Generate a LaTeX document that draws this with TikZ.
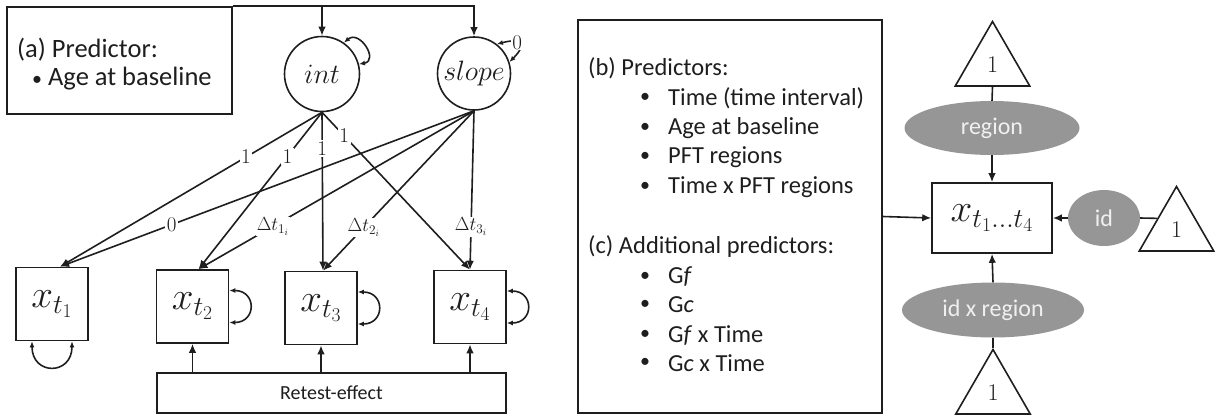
\RequirePackage{fix-cm}
\documentclass[tikz,border=0pt]{standalone}
\usepackage{fontspec}
\setmainfont{Carlito}
\usetikzlibrary{arrows.meta,shapes.geometric,calc}
\definecolor{ink}{RGB}{30,30,30}
\definecolor{grey}{RGB}{150,150,150}
\begin{document}
\begin{tikzpicture}[x=1pt,y=-1pt,
  every node/.style={text=ink},
  ln/.style={draw=ink, line width=1.6pt},
  arr/.style={ln, -{Latex[length=9pt,width=7.5pt]}},
  darr/.style={ln, {Latex[length=6pt,width=5pt]}-{Latex[length=6pt,width=5pt]}},
  obs/.style={ln, minimum width=72pt, minimum height=73pt, inner sep=0pt, font=\fontsize{39}{44}\selectfont},
  lat/.style={ln, circle, inner sep=0pt, font=\fontsize{28}{32}\selectfont},
  lab/.style={fill=white, inner sep=1.5pt, font=\fontsize{21}{24}\selectfont},
  dlab/.style={fill=white, inner sep=1pt, font=\fontsize{19}{22}\selectfont},
  txt/.style={inner sep=0pt, anchor=west, font=\fontsize{24.5}{29.5}\selectfont},
  gre/.style={ellipse, fill=grey, text=white!94!black, inner sep=0pt, font=\fontsize{24}{28}\selectfont},
  tri/.style={regular polygon, regular polygon sides=3, minimum size=86pt, inner sep=0pt, ln, font=\fontsize{24}{28}\selectfont}
]
\useasboundingbox (0,0) rectangle (1215,416);

% ---- panel (a) ----
\node[ln, minimum width=225pt, minimum height=107pt] (predA) at (119.5,60.5) {};
\node[txt, font=\fontsize{26.5}{30}\selectfont] (predAt) at (17,50) {(a) Predictor:};
\node[txt, font=\fontsize{26.5}{30}\selectfont] (predAb) at (32,79) {{\fontsize{20}{20}\selectfont\textbullet}\ Age at baseline};

\node[lat, minimum size=75pt] (int) at (322,74) {$int$};
\node[lat, minimum size=73pt] (slope) at (474,73.5) {$slope$};

\draw[arr] (predA.north east) -| (slope.north);
\draw[arr] (int.north |- predA.north) -- (int.north);

\node[obs] (x1) at (52,304) {$x_{t_1}$};
\node[obs] (x2) at (192.5,306.5) {$x_{t_2}$};
\node[obs] (x3) at (321,308) {$x_{t_3}$};
\node[obs] (x4) at (470,307) {$x_{t_4}$};
\node[ln, minimum width=349pt, minimum height=40pt, inner sep=0pt, font=\fontsize{20}{24}\selectfont] (retest) at (331.5,393) {Retest-effect};

\coordinate (e1) at ([xshift=8pt]x1.north);
\coordinate (e2) at ([xshift=6pt]x2.north);
\coordinate (e3) at ([xshift=2pt]x3.north);
\coordinate (e4) at ([xshift=0pt]x4.north);

\draw[arr] (int.south) -- node[lab,pos=0.29] (l1) {$1$} (e1);
\draw[arr] (int.south) -- node[lab,pos=0.28] (l2) {$1$} (e2);
\draw[arr] (int.south) -- node[lab,pos=0.23] (l3) {$1$} (e3);
\draw[arr] (int.south) -- node[lab,pos=0.15] (l4) {$1$} (e4);

\draw[arr] (slope.south) -- node[lab,pos=0.73] (s1) {$0$} (e1);
\draw[arr] (slope.south) -- node[dlab,pos=0.73] (s2) {$\Delta t_{1_i}$} (e2);
\draw[arr] (slope.south) -- node[dlab,pos=0.73] (s3) {$\Delta t_{2_i}$} (e3);
\draw[arr] (slope.south) -- node[dlab,pos=0.73] (s4) {$\Delta t_{3_i}$} (e4);

\foreach \n in {x2,x3,x4}{
  \draw[arr] (retest.north -| \n) -- (\n.south);
  \draw[darr] ([yshift=16pt]\n.east) to[out=0,in=0,looseness=2.2] ([yshift=-16pt]\n.east);
}
\draw[darr] ([xshift=-20pt]x1.south) to[out=-90,in=-90,looseness=2.2] ([xshift=20pt]x1.south);

\draw[darr] (int.55) to[out=40,in=10,looseness=2] (int.15);
\draw[darr] (slope.52) to[out=15,in=45,looseness=3] node[pos=0.4, fill=white, inner sep=1pt, font=\fontsize{21}{24}\selectfont] (zero) {$0$} (slope.18);

% ---- panels (b), (c) ----
\node[ln, minimum width=304pt, minimum height=393pt] (predBC) at (730,216.5) {};
\node[txt] (bh) at (588,68) {(b) Predictors:};
\foreach [count=\i] \y/\s in {98/Time (time interval),128/Age at baseline,157/PFT regions,187/Time x PFT regions}{
  \node[txt, font=\fontsize{20}{20}\selectfont] (bb\i) at (640,\y) {\textbullet};
  \node[txt] (bt\i) at (668,\y) {\s};
}
\node[txt] (ch) at (588,247) {(c) Additional predictors:};
\foreach [count=\i] \y/\s in {277/G\textit{f},305/G\textit{c},335/G\textit{f} x Time,363/G\textit{c} x Time}{
  \node[txt, font=\fontsize{20}{20}\selectfont] (cb\i) at (640,\y) {\textbullet};
  \node[txt] (ct\i) at (668,\y) {\s};
}

\node[tri] (T1) at (992.5,64.5) {$1$};
\node[gre, minimum width=175pt, minimum height=54pt] (region) at (992,128) {region};
\node[ln, minimum width=120pt, minimum height=70pt, inner sep=0pt, font=\fontsize{39}{44}\selectfont] (X) at (992,218) {$x_{t_1\ldots t_4}$};
\node[gre, minimum width=72pt, minimum height=56pt] (id) at (1104,218) {id};
\node[tri] (T2) at (1176.5,229.5) {$1$};
\node[gre, minimum width=182pt, minimum height=55pt] (idr) at (993,310) {id x region};
\node[tri] (T3) at (993,392.5) {$1$};

\draw[ln] (T1.south) -- (region.north);
\draw[arr] (region.south) -- (X.north);
\draw[arr] (id.west) -- (X.east);
\draw[ln] (id.east) -- (T2.side 1);
\draw[arr] (idr.north) -- (X.south);
\draw[ln] (T3.corner 1) -- (idr.south);
\draw[arr] (predBC.east) -- (X.west);
\end{tikzpicture}
\end{document}
